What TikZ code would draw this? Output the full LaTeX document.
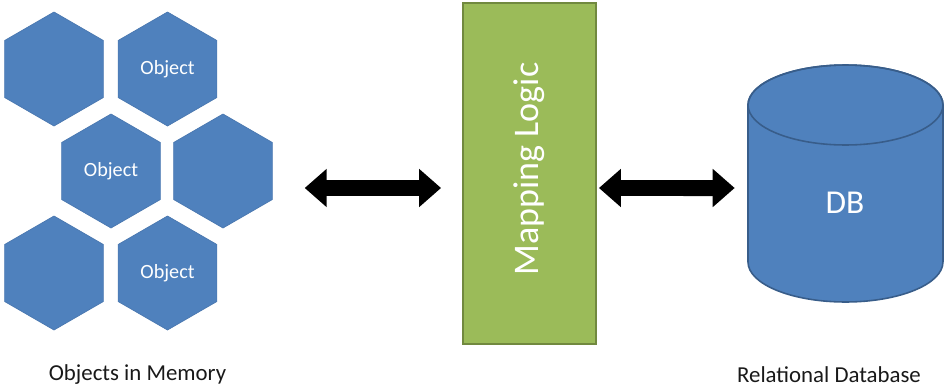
\documentclass[tikz,border=0pt]{standalone}
\usepackage{fontspec}
\setmainfont{Carlito}
\usetikzlibrary{shapes.geometric,arrows.meta}
\definecolor{hexblue}{HTML}{4F81BD}
\definecolor{hexedge}{HTML}{4A78B0}
\definecolor{dbedge}{HTML}{385D8A}
\definecolor{mapgreen}{HTML}{9BBB59}
\definecolor{mapedge}{HTML}{71893F}
\begin{document}
\begin{tikzpicture}[x=0.02cm,y=-0.02cm,
  hexa/.style={regular polygon, regular polygon sides=6, regular polygon rotate=30,
    minimum size=2.28cm, inner sep=0pt, fill=hexblue, draw=hexedge, line width=0.4pt,
    text=white, font=\fontsize{11.5pt}{13pt}\selectfont},
  mapbox/.style={rectangle, minimum width=2.66cm, minimum height=6.82cm, inner sep=0pt,
    fill=mapgreen, draw=mapedge, line width=1.1pt},
  biarrow/.style={line width=0.32cm, {Triangle[length=0.44cm,width=0.74cm]}-{Triangle[length=0.44cm,width=0.74cm]}},
  caption/.style={font=\fontsize{13pt}{15pt}\selectfont, text=black!90}
]
\useasboundingbox (0,0) rectangle (944,389);
% hexagons
\node[hexa] (h1) at (54,69) {};
\node[hexa] (h2) at (167.5,69) {Object};
\node[hexa] (h3) at (111,171) {Object};
\node[hexa] (h4) at (223,171) {};
\node[hexa] (h5) at (54,273) {};
\node[hexa] (h6) at (167.5,273) {Object};
% mapping logic
\node[mapbox] (map) at (529.5,173.5) {};
\node[rotate=90, text=white, font=\fontsize{20.5pt}{24pt}\selectfont] (maptext) at (529,169) {Mapping Logic};
% database cylinder
\filldraw[fill=hexblue, draw=dbedge, line width=0.9pt]
  (748,105) -- (748,262) arc (180:360:1.95cm and 0.8cm) -- (943,105) arc (0:180:1.95cm and 0.8cm) -- cycle;
\draw[dbedge, line width=0.9pt] (845.5,105) ellipse (1.95cm and 0.8cm);
\node[rectangle, minimum width=3.9cm, minimum height=4.74cm, inner sep=0pt] (db) at (845.5,183.5) {};
\node[text=white, font=\fontsize{19pt}{22pt}\selectfont] (dbtext) at (845,203) {DB};
% arrows
\draw[biarrow] ([xshift=0.64cm,yshift=-0.34cm]h4.east) -- ([xshift=-0.42cm,yshift=-0.29cm]map.west);
\draw[biarrow] ([xshift=0.04cm,yshift=-0.29cm]map.east) -- ([xshift=-0.26cm,yshift=-0.09cm]db.west);
% captions
\node[caption] (lblobj) at (137.5,375) {Objects in Memory};
\node[caption] (lbldb) at (829,375) {Relational Database};
\end{tikzpicture}
\end{document}
